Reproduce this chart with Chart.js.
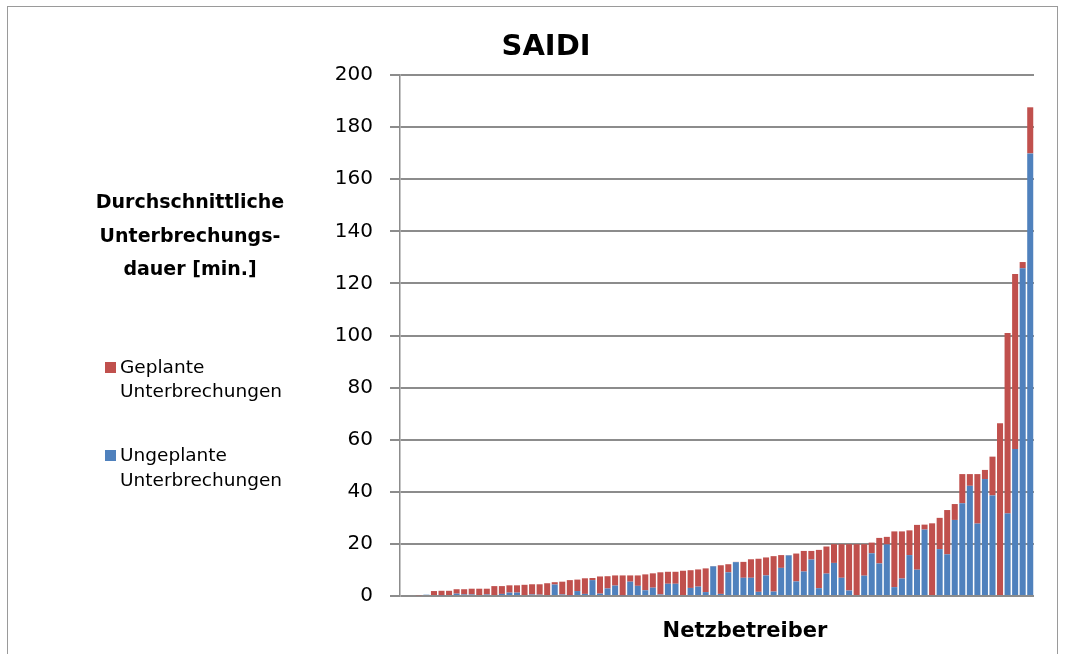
<!DOCTYPE html>
<html>
<head>
<meta charset="utf-8">
<script src="https://cdn.jsdelivr.net/npm/chart.js@4"></script>
<style>
  body { margin: 0; background: #fff; }
  canvas { display: block; }
</style>
</head>
<body>
<canvas id="saidi" width="1065" height="654"></canvas>
<script>
// === Data (minutes per network operator, sorted by total) ===
const operators = Array.from({ length: 84 }, (_, i) => "NB " + (i + 1));

const ungeplant = [
    0, 0, 0, 0.5, 0, 0.3, 0, 0.9, 0.6, 0.6,
    0, 0.6, 0, 0.8, 1.3, 1.3, 0, 0.6, 0.5, 0,
    4.4, 0.6, 0.3, 1.9, 0.8, 6.1, 0.9, 2.9, 4.0, 0.3,
    5.5, 3.9, 2.2, 3.2, 0.6, 4.7, 4.7, 0, 3.1, 3.6,
    1.5, 11.4, 0.8, 9.1, 13.0, 7.0, 7.0, 1.6, 7.9, 1.7,
    10.8, 15.6, 5.6, 9.4, 14.0, 3.0, 8.6, 12.7, 7.0, 2.1,
    0, 7.8, 16.4, 12.5, 19.8, 3.4, 6.7, 15.7, 10.1, 25.5,
    0, 18.0, 16.0, 29.2, 35.6, 42.3, 27.8, 44.9, 38.6, 0,
    31.7, 56.4, 125.8, 169.9
];

const geplant = [
    0, 0, 0.3, 0, 1.9, 1.7, 2.0, 1.7, 2.0, 2.2,
    2.8, 2.2, 3.8, 3.0, 2.8, 2.8, 4.3, 3.9, 4.0, 4.9,
    0.9, 4.9, 5.8, 4.4, 6.0, 0.8, 6.6, 4.7, 3.9, 7.6,
    2.4, 4.0, 6.1, 5.5, 8.5, 4.6, 4.6, 9.7, 6.8, 6.6,
    9.1, 0.1, 11.0, 3.1, 0.1, 6.1, 7.1, 12.7, 6.9, 13.6,
    4.9, 0.1, 10.7, 7.9, 3.3, 14.7, 10.4, 7.2, 12.9, 17.8,
    19.9, 12.1, 4.1, 9.8, 2.9, 21.4, 18.1, 9.5, 17.2, 1.9,
    27.9, 12.0, 17.0, 6.1, 11.2, 4.5, 19.0, 3.5, 14.9, 66.3,
    69.3, 67.2, 2.4, 17.7
];

const yTicks = [0, 20, 40, 60, 80, 100, 120, 140, 160, 180, 200];

const RED = "#C0504D";
const BLUE = "#4F81BD";
const GRID = "#8c8c8c";

// === Texts around the plot ===
const decorations = {
    id: "decorations",
    afterDraw(chart) {
        const ctx = chart.ctx;
        ctx.save();

        // outer frame
        ctx.strokeStyle = "#9a9a9a";
        ctx.lineWidth = 1;
        ctx.strokeRect(7.5, 6.5, 1050, 700);

        ctx.fillStyle = "#000";
        ctx.textAlign = "center";
        ctx.textBaseline = "middle";

        ctx.font = "bold 29px 'DejaVu Sans'";
        ctx.fillText("SAIDI", 546, 47);

        ctx.font = "bold 19px 'DejaVu Sans'";
        ctx.fillText("Durchschnittliche", 190, 203);
        ctx.fillText("Unterbrechungs-", 190, 237);
        ctx.fillText("dauer [min.]", 190, 270);

        ctx.font = "bold 21px 'DejaVu Sans'";
        ctx.fillText("Netzbetreiber", 745, 632);

        // legend
        ctx.textAlign = "left";
        ctx.font = "18.5px 'DejaVu Sans'";
        ctx.fillStyle = RED;
        ctx.fillRect(105, 362, 11, 11);
        ctx.fillStyle = BLUE;
        ctx.fillRect(105, 450, 11, 11);
        ctx.fillStyle = "#000";
        ctx.fillText("Geplante", 120, 368);
        ctx.fillText("Unterbrechungen", 120, 392);
        ctx.fillText("Ungeplante", 120, 456);
        ctx.fillText("Unterbrechungen", 120, 481);

        ctx.restore();
    },
};

new Chart(document.getElementById("saidi"), {
    type: "bar",
    data: {
        labels: operators,
        datasets: [
            {
                label: "Ungeplante Unterbrechungen",
                data: ungeplant,
                backgroundColor: BLUE,
                barPercentage: 0.8,
                categoryPercentage: 1,
            },
            {
                label: "Geplante Unterbrechungen",
                data: geplant,
                backgroundColor: RED,
                barPercentage: 0.8,
                categoryPercentage: 1,
            },
        ],
    },
    options: {
        responsive: false,
        animation: false,
        layout: { padding: { left: 300, right: 31, top: 75, bottom: 58 } },
        plugins: {
            legend: { display: false },
            tooltip: { enabled: false },
        },
        scales: {
            x: {
                stacked: true,
                display: false,
            },
            y: {
                stacked: true,
                min: 0,
                max: 200,
                afterFit: s => { s.width = 100; },
                afterBuildTicks: s => { s.ticks = yTicks.map(v => ({ value: v })); },
                ticks: {
                    color: "#000",
                    padding: 17,
                    font: { family: "DejaVu Sans", size: 20 },
                },
                grid: { color: GRID, lineWidth: 2, tickLength: 10 },
                border: { color: GRID, width: 1.5 },
            },
        },
    },
    plugins: [decorations],
});
</script>
</body>
</html>
